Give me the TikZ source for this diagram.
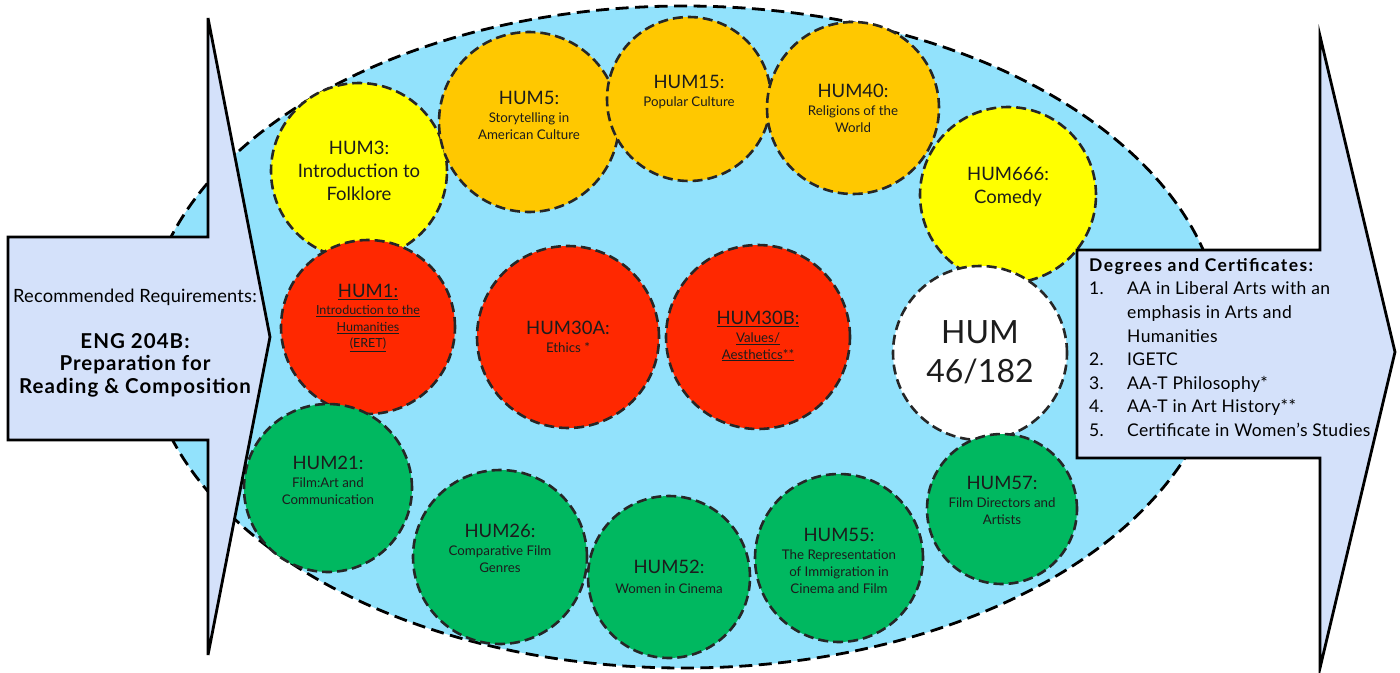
\documentclass[tikz,border=0pt]{standalone}
\usepackage{fontspec}
\setmainfont{Lato}
\definecolor{ellblue}{RGB}{146,226,252}
\definecolor{arrowfill}{RGB}{212,225,250}
\definecolor{cyellow}{RGB}{255,255,0}
\definecolor{corange}{RGB}{255,200,0}
\definecolor{cred}{RGB}{255,40,0}
\definecolor{cgreen}{RGB}{0,184,96}
\definecolor{cline}{RGB}{38,38,38}
\definecolor{ctext}{RGB}{28,28,28}
\newcommand\cttl{\fontsize{18.5}{21}\selectfont}
\begin{document}
\begin{tikzpicture}[x=1pt,y=-1pt,
  circ/.style={circle,draw=cline,line width=2.6pt,dash pattern=on 10pt off 5pt,inner sep=0pt,minimum size=#1},
  lbl/.style={align=center,text=ctext,font=\fontsize{13.3}{17}\selectfont,inner sep=0pt},
  biglbl/.style={align=center,text=ctext,font=\fontsize{18.5}{23}\selectfont,inner sep=0pt},
  arrowshape/.style={draw=black,line width=2.8pt,fill=arrowfill,line join=miter},
  ellstyle/.style={draw=black,line width=2.8pt,dash pattern=on 13pt off 6.5pt,fill=ellblue}]
\useasboundingbox (0,0) rectangle (1400,672);
\draw[ellstyle] (684,337) ellipse [x radius=538,y radius=331];

\node[circ=176,fill=cyellow] (h3) at (359,171) {};
\node[circ=180,fill=corange] (h5) at (529,122) {};
\node[circ=164,fill=corange] (h15) at (689,99) {};
\node[circ=172,fill=corange] (h40) at (853,108) {};
\node[circ=176,fill=cyellow] (h666) at (1008,195) {};
\node[circ=174,fill=cred] (h1) at (368,327) {};
\node[circ=182,fill=cred] (h30a) at (568,337) {};
\node[circ=184,fill=cred] (h30b) at (758,337) {};
\node[circ=174,fill=white] (h46) at (980,353) {};
\node[circ=168,fill=cgreen] (h21) at (328,488) {};
\node[circ=174,fill=cgreen] (h26) at (500,557) {};
\node[circ=162,fill=cgreen] (h52) at (669,577) {};
\node[circ=168,fill=cgreen] (h55) at (839,558) {};
\node[circ=150,fill=cgreen] (h57) at (1002,509) {};

\node[biglbl] (t3) at (359,171) {HUM3:\\Introduction to\\Folklore};
\node[lbl] (t5) at (529,115) {{\cttl HUM5:}\\[1pt]Storytelling in\\American Culture};
\node[lbl] (t15) at (689,92) {{\cttl HUM15:}\\[1pt]Popular Culture};
\node[lbl] (t40) at (853,108) {{\cttl HUM40:}\\[1pt]Religions of the\\World};
\node[biglbl] (t666) at (1008,187) {HUM666:\\Comedy};
\node[lbl,font=\fontsize{12.5}{16.5}\selectfont] (t1) at (368,318) {{\cttl\underline{HUM1:}}\\[1pt]\underline{Introduction to the}\\\underline{Humanities}\\\underline{(ERET)}};
\node[lbl] (t30a) at (568,337) {{\cttl HUM30A:}\\[1pt]Ethics *};
\node[lbl] (t30b) at (758,336) {{\cttl\underline{HUM30B:}}\\[1pt]\underline{Values/}\\\underline{Aesthetics**}};
\node[align=center,text=ctext,font=\fontsize{32}{39}\selectfont,inner sep=0pt] (t46) at (980,352) {HUM\\46/182};
\node[lbl] (t21) at (328,480) {{\cttl HUM21:}\\[1pt]Film:Art and\\Communication};
\node[lbl] (t26) at (500,548) {{\cttl HUM26:}\\[1pt]Comparative Film\\Genres};
\node[lbl] (t52) at (669,577) {{\cttl HUM52:}\\[3pt]Women in Cinema};
\node[lbl] (t55) at (839,561) {{\cttl HUM55:}\\[1pt]The Representation\\of Immigration in\\Cinema and Film};
\node[lbl] (t57) at (1002,500) {{\cttl HUM57:}\\[1pt]Film Directors and\\Artists};

\draw[arrowshape] (8,237) -- (208,237) -- (208,18) -- (270,337) -- (208,655) -- (208,440) -- (8,440) -- cycle;
\draw[arrowshape] (1077,250) -- (1320,250) -- (1320,36) -- (1395,352) -- (1320,668) -- (1320,458) -- (1077,458) -- cycle;

\node[text=black,font=\fontsize{18.3}{21}\addfontfeature{LetterSpace=1}\selectfont,inner sep=0pt] (rec) at (135,297) {Recommended Requirements:};
\node[align=center,text=black,font=\bfseries\fontsize{20.5}{22.5}\addfontfeature{LetterSpace=5}\selectfont,inner sep=0pt] (eng) at (135,365) {ENG 204B:\\Preparation for\\Reading \& Composition};

\node[anchor=north west,align=left,text=black,font=\fontsize{17.5}{23.6}\addfontfeature{LetterSpace=2}\selectfont,inner sep=0pt] (deg) at (1089,258)
{{\bfseries\addfontfeature{LetterSpace=8}Degrees and Certificates:}\\
\makebox[38pt][l]{1.}AA in Liberal Arts with an\\
\hspace*{38pt}emphasis in Arts and\\
\hspace*{38pt}Humanities\\
\makebox[38pt][l]{2.}IGETC\\
\makebox[38pt][l]{3.}AA-T Philosophy*\\
\makebox[38pt][l]{4.}AA-T in Art History**\\
\makebox[38pt][l]{5.}Certificate in Women’s Studies};
\end{tikzpicture}
\end{document}
